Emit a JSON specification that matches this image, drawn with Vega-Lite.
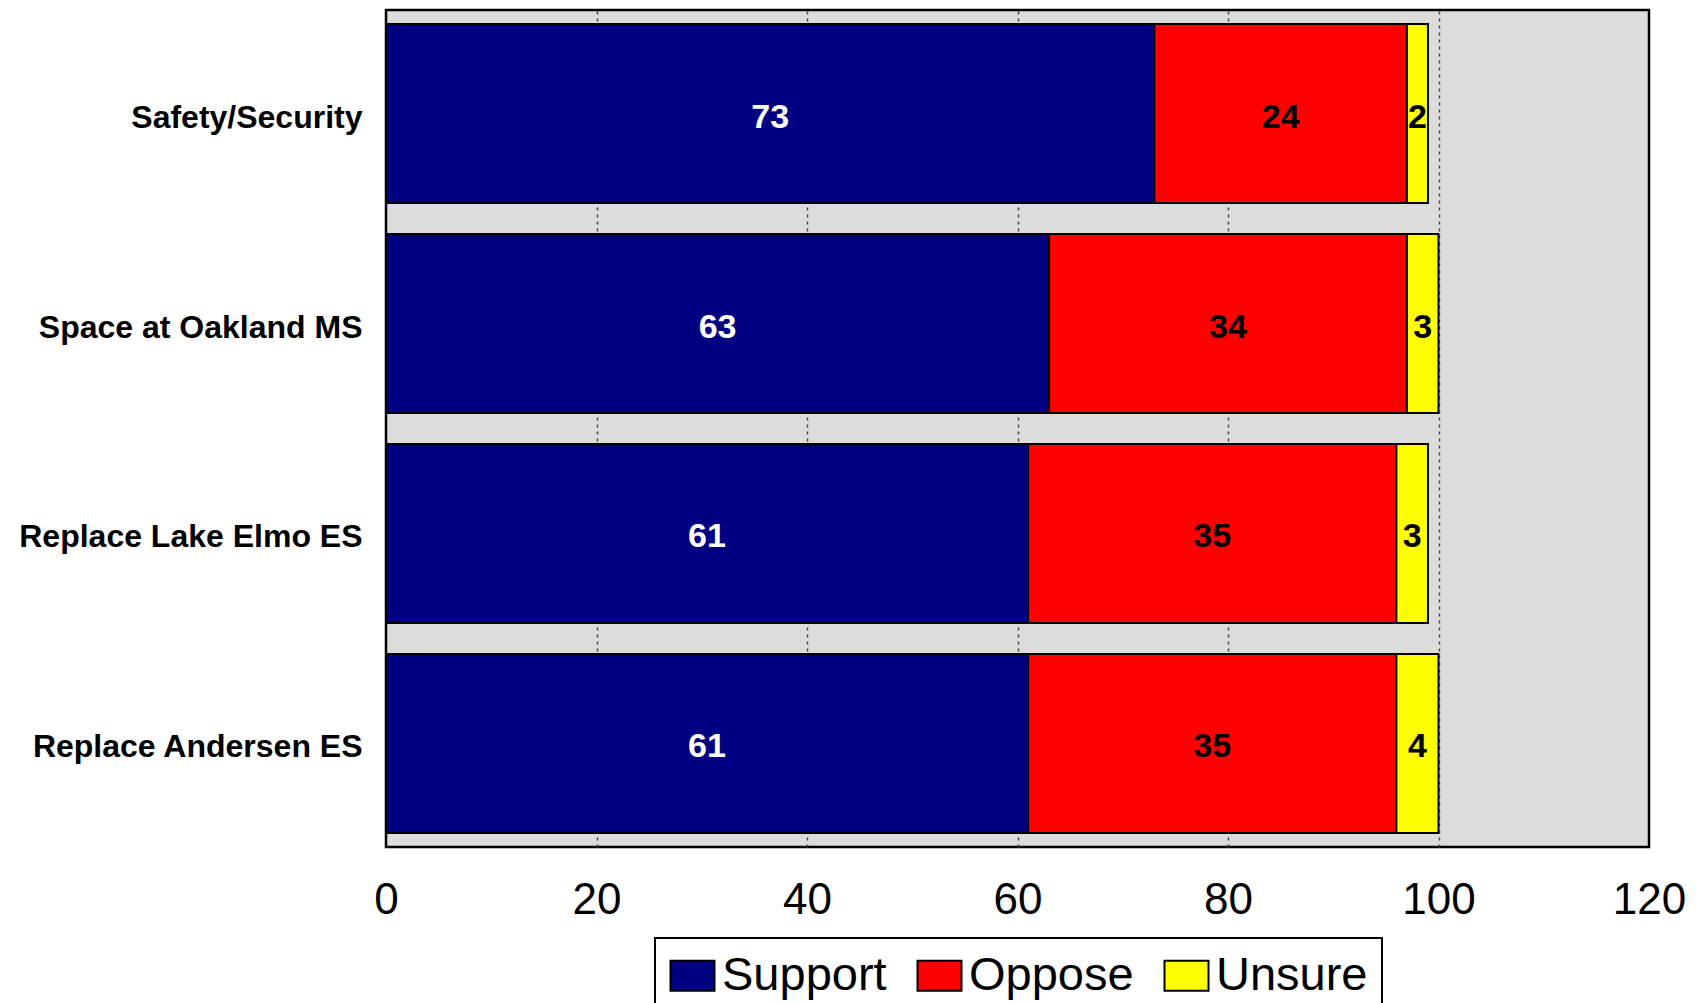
{
  "$schema": "https://vega.github.io/schema/vega-lite/v6.json",
  "autosize": {"type": "none"},
  "padding": {"left": 386, "top": 10, "right": 55, "bottom": 156},
  "width": 1263,
  "height": 837,
  "background": "white",
  "data": {
    "values": [
      {"item": "Safety/Security", "response": "Support", "k": 1, "pct": 73},
      {"item": "Safety/Security", "response": "Oppose", "k": 2, "pct": 24},
      {"item": "Safety/Security", "response": "Unsure", "k": 3, "pct": 2},
      {"item": "Space at Oakland MS", "response": "Support", "k": 1, "pct": 63},
      {"item": "Space at Oakland MS", "response": "Oppose", "k": 2, "pct": 34},
      {"item": "Space at Oakland MS", "response": "Unsure", "k": 3, "pct": 3},
      {"item": "Replace Lake Elmo ES", "response": "Support", "k": 1, "pct": 61},
      {"item": "Replace Lake Elmo ES", "response": "Oppose", "k": 2, "pct": 35},
      {"item": "Replace Lake Elmo ES", "response": "Unsure", "k": 3, "pct": 3},
      {"item": "Replace Andersen ES", "response": "Support", "k": 1, "pct": 61},
      {"item": "Replace Andersen ES", "response": "Oppose", "k": 2, "pct": 35},
      {"item": "Replace Andersen ES", "response": "Unsure", "k": 3, "pct": 4}
    ]
  },
  "transform": [
    {"stack": "pct", "groupby": ["item"], "sort": [{"field": "k", "order": "ascending"}], "as": ["x0", "x1"]}
  ],
  "encoding": {
    "y": {
      "field": "item",
      "type": "nominal",
      "sort": ["Safety/Security", "Space at Oakland MS", "Replace Lake Elmo ES", "Replace Andersen ES"],
      "scale": {"paddingInner": 0.148, "paddingOuter": 0.067},
      "axis": {
        "title": null,
        "ticks": false,
        "domain": false,
        "grid": false,
        "labelFont": "Liberation Sans",
        "labelFontWeight": "bold",
        "labelFontSize": 32,
        "labelColor": "black",
        "labelPadding": 24,
        "labelOffset": 4,
        "labelLimit": 0
      }
    }
  },
  "layer": [
    {
      "mark": {"type": "bar", "stroke": "black", "strokeWidth": 2},
      "encoding": {
        "x": {
          "field": "x0",
          "type": "quantitative",
          "scale": {"domain": [0, 120], "nice": false, "zero": true},
          "axis": {
            "title": null,
            "orient": "bottom",
            "values": [0, 20, 40, 60, 80, 100, 120],
            "domain": false,
            "ticks": false,
            "tickSize": 0,
            "labelFont": "Liberation Sans",
            "labelFontSize": 44,
            "labelColor": "black",
            "labelBaseline": "middle",
            "labelPadding": 53,
            "labelFlush": false,
            "grid": true,
            "gridColor": "#444444",
            "gridWidth": 1.5,
            "gridDash": [3, 4],
            "gridOpacity": {"condition": {"test": "datum.value === 0 || datum.value === 120", "value": 0}, "value": 1}
          }
        },
        "x2": {"field": "x1"},
        "color": {
          "field": "response",
          "type": "nominal",
          "scale": {"domain": ["Support", "Oppose", "Unsure"], "range": ["#000080", "#FF0000", "#FFFF00"]},
          "legend": {
            "title": null,
            "orient": "none",
            "direction": "horizontal",
            "legendX": 269,
            "legendY": 928,
            "symbolType": "M-1,-0.68L1,-0.68L1,0.68L-1,0.68Z",
            "symbolSize": 1936,
            "symbolStrokeColor": "black",
            "symbolStrokeWidth": 2,
            "symbolOpacity": 1,
            "labelFont": "Liberation Sans",
            "labelFontSize": 47,
            "labelColor": "black",
            "labelOffset": 6,
            "labelLimit": 400,
            "columnPadding": 26,
            "padding": 14,
            "strokeColor": "black",
            "fillColor": "white"
          }
        }
      }
    },
    {
      "transform": [
        {"fold": ["x0", "x1"], "as": ["edge", "pos"]},
        {"aggregate": [{"op": "mean", "field": "pos", "as": "mid"}], "groupby": ["item", "response", "pct"]}
      ],
      "mark": {"type": "text", "font": "Liberation Sans", "fontWeight": "bold", "fontSize": 34, "baseline": "middle", "align": "center", "dy": 4},
      "encoding": {
        "x": {"field": "mid", "type": "quantitative"},
        "text": {"field": "pct", "type": "quantitative"},
        "color": {"condition": {"test": "datum.response === 'Support'", "value": "white"}, "value": "black"}
      }
    }
  ],
  "config": {
    "view": {"fill": "#DCDCDC", "stroke": "black", "strokeWidth": 2.5},
    "legend": {"strokeWidth": 2}
  }
}
